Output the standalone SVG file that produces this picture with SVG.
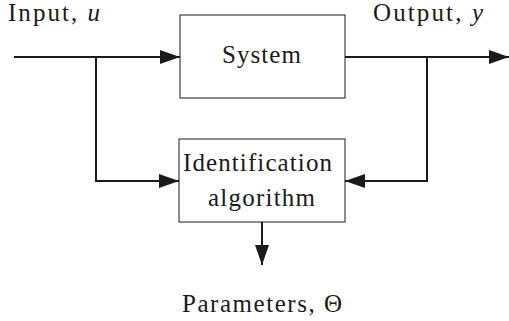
<svg xmlns="http://www.w3.org/2000/svg" width="509" height="321" viewBox="0 0 509 321">
<style>
text{font-family:"Liberation Serif","Times New Roman",serif;font-size:25px;fill:#1a1a1a}
.it{font-style:italic}
.box{fill:#fff;stroke:#1a1a1a;stroke-width:1}
.wire{fill:none;stroke:#1a1a1a;stroke-width:2}
</style>
<defs>
<marker id="ah" viewBox="0 0 20 14" refX="20" refY="7" markerWidth="20" markerHeight="14" markerUnits="userSpaceOnUse" orient="auto">
<path d="M0,0 L20,7 L0,14 Z" fill="#1a1a1a"/>
</marker>
</defs>
<g id="connectors">
<path class="wire" d="M14,57 H180" marker-end="url(#ah)"/>
<path class="wire" d="M96,57 V181 H179" marker-end="url(#ah)"/>
<path class="wire" d="M345,57 H509" marker-end="url(#ah)"/>
<path class="wire" d="M427,57 V181 H345" marker-end="url(#ah)"/>
<path class="wire" d="M262,222 V265" marker-end="url(#ah)"/>
</g>
<g id="system">
<rect class="box" x="180" y="15" width="165" height="83"/>
<text x="222" y="63" textLength="79" lengthAdjust="spacing">System</text>
</g>
<g id="identification">
<rect class="box" x="179" y="139" width="166" height="83"/>
<text x="183" y="171" textLength="149" lengthAdjust="spacing">Identification</text>
<text x="208" y="206" textLength="107" lengthAdjust="spacing">algorithm</text>
</g>
<g id="labels">
<text x="8" y="21" textLength="92" lengthAdjust="spacing">Input, <tspan class="it">u</tspan></text>
<text x="373" y="21" textLength="110" lengthAdjust="spacing">Output, <tspan class="it">y</tspan></text>
<text x="182" y="312" textLength="160" lengthAdjust="spacing">Parameters, Θ</text>
</g>
</svg>
